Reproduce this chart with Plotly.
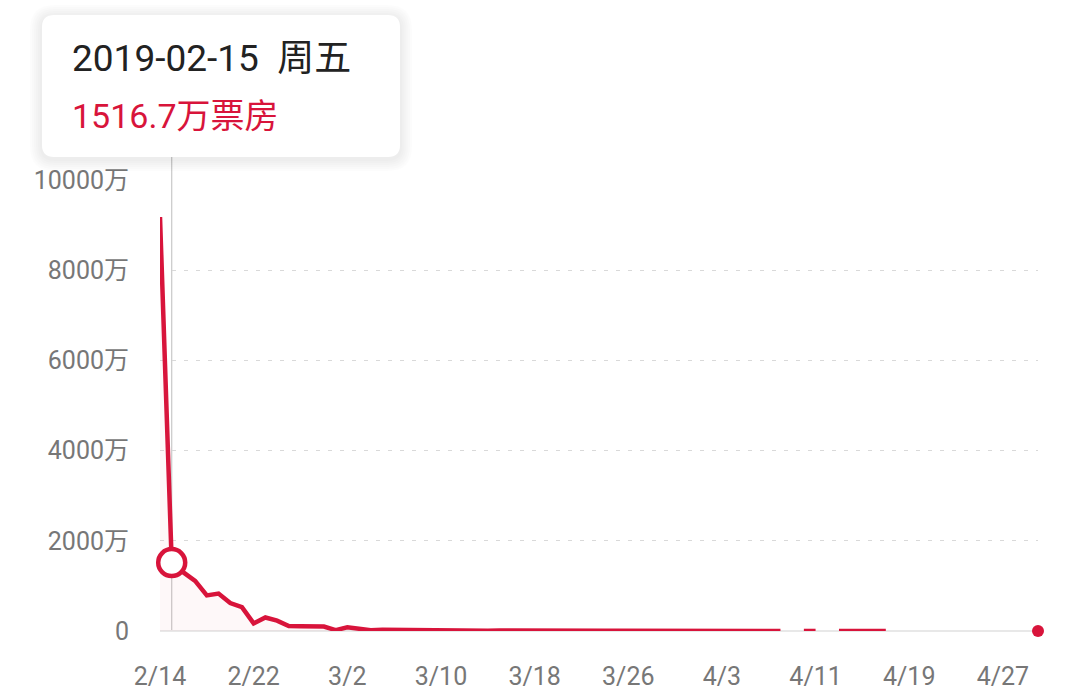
import pandas as pd
import plotly.graph_objects as go

# daily box office (万), 2019-02-14 .. 2019-04-30, None = no screening data
start_date = "2019-02-14"
box_office = [
    9180, 1516.7, 1300, 1110, 790, 830, 620, 530, 170, 300,
    230, 110, 105, 105, 100, 20, 80, 50, 15, 30,
    25, 20, 30, 35, 28, 12, 10, 9, 8, 10,
    12, 10, 5, 4, 3.5, 3, 2.8, 4, 4.5, 3, 2, 1.8,
    1.5, 1.4, 1.2, 1.5, 1.8, 1.2, 1, 0.9, 0.8, 0.8,
    0.7, 0.6, None, 0.5, 0.4, None, 0.4, 0.3, 0.3, 0.3,
    0.2, None, None, None, None, None, None, None, None, None,
    None, None, None, 0.2,
]
dates = pd.date_range(start_date, periods=len(box_office), freq="D")

highlight_idx = 1
highlight_date_text = "2019-02-15\u00a0\u00a0周五"
highlight_value_text = "1516.7万票房"

x_tick_dates = ["2019-02-14", "2019-02-22", "2019-03-02", "2019-03-10", "2019-03-18",
                "2019-03-26", "2019-04-03", "2019-04-11", "2019-04-19", "2019-04-27"]
x_tick_text = ["2/14", "2/22", "3/2", "3/10", "3/18", "3/26", "4/3", "4/11", "4/19", "4/27"]
y_tick_vals = [0, 2000, 4000, 6000, 8000, 10000]
y_tick_text = ["0", "2000万", "4000万", "6000万", "8000万", "10000万"]

RED = "#d8143b"
FONT = "Roboto, Noto Sans CJK SC"

# plot area in pixels
L, R, T, B = 160, 1038, 180, 631
W, H = R - L, B - T


def to_paper(px, py):
    return (px - L) / W, (B - py) / H


def rounded_path(x0, y0, x1, y1, r):
    pts = [
        ("M", [(x0 + r, y0)]), ("L", [(x1 - r, y0)]), ("Q", [(x1, y0), (x1, y0 + r)]),
        ("L", [(x1, y1 - r)]), ("Q", [(x1, y1), (x1 - r, y1)]), ("L", [(x0 + r, y1)]),
        ("Q", [(x0, y1), (x0, y1 - r)]), ("L", [(x0, y0 + r)]), ("Q", [(x0, y0), (x0 + r, y0)]),
    ]
    out = []
    for cmd, ps in pts:
        coords = []
        for px, py in ps:
            a, b = to_paper(px, py)
            coords.append(f"{a:.5f},{b:.5f}")
        out.append(cmd + " " + " ".join(coords))
    return " ".join(out) + " Z"


# isolated points get a dot since a lone point draws no line
lone_x, lone_y = [], []
for i, v in enumerate(box_office):
    if v is None:
        continue
    prev_none = i == 0 or box_office[i - 1] is None
    next_none = i == len(box_office) - 1 or box_office[i + 1] is None
    if prev_none and next_none:
        lone_x.append(dates[i])
        lone_y.append(v)

fig = go.Figure()
fig.add_trace(go.Scatter(
    x=dates, y=box_office, mode="lines",
    line=dict(color=RED, width=4.5),
    fill="tozeroy", fillcolor="rgba(216,20,59,0.03)",
    connectgaps=False, cliponaxis=False, hoverinfo="skip",
))
fig.add_trace(go.Scatter(
    x=lone_x, y=lone_y, mode="markers",
    marker=dict(color=RED, size=12), cliponaxis=False, hoverinfo="skip",
))
fig.add_trace(go.Scatter(
    x=[dates[highlight_idx]], y=[box_office[highlight_idx]], mode="markers",
    marker=dict(color="white", size=27, line=dict(color=RED, width=4.5)),
    cliponaxis=False, hoverinfo="skip",
))

# hover guide line
fig.add_shape(type="line", xref="x", yref="paper",
              x0=dates[highlight_idx], x1=dates[highlight_idx],
              y0=0, y1=to_paper(0, 157)[1],
              line=dict(color="#c8c8c8", width=1.2), layer="below")

# tooltip box with soft shadow
for i in range(6, 0, -1):
    fig.add_shape(type="path", xref="paper", yref="paper",
                  path=rounded_path(42 - i * 2, 15 - i * 2 + 2, 400 + i * 2, 157 + i * 2 + 2, 12 + i * 2),
                  fillcolor="rgba(0,0,0,0.012)", line=dict(width=0), layer="above")
fig.add_shape(type="path", xref="paper", yref="paper",
              path=rounded_path(42, 15, 400, 157, 12),
              fillcolor="white", line=dict(width=0), layer="above")

ax, ay = to_paper(70, 58)
fig.add_annotation(xref="paper", yref="paper", x=ax, y=ay, xanchor="left", yanchor="middle",
                   text=highlight_date_text, showarrow=False,
                   font=dict(family=FONT, size=37, color="#222222"))
ax, ay = to_paper(70, 116)
fig.add_annotation(xref="paper", yref="paper", x=ax, y=ay, xanchor="left", yanchor="middle",
                   text=highlight_value_text, showarrow=False,
                   font=dict(family=FONT, size=34, color=RED))

fig.update_layout(
    width=1080, height=697, autosize=False,
    margin=dict(l=L, r=1080 - R, t=T, b=697 - B),
    plot_bgcolor="white", paper_bgcolor="white",
    showlegend=False,
    font=dict(family=FONT, color="#777777", size=25),
)
fig.update_xaxes(
    range=[dates[0], dates[-1]], automargin=False,
    tickvals=x_tick_dates, ticktext=x_tick_text,
    showgrid=False, showline=False, zeroline=False,
    ticklabelstandoff=28, tickfont=dict(size=25, color="#777777"),
)
fig.update_yaxes(
    range=[0, 10000], automargin=False,
    tickvals=y_tick_vals, ticktext=y_tick_text,
    showgrid=True, gridcolor="#d9d9d9", griddash="4px,8px", gridwidth=1.2,
    zeroline=True, zerolinecolor="#e8e8e8", zerolinewidth=2,
    showline=False, ticklabelstandoff=30, tickfont=dict(size=25, color="#777777"),
)

# drop the default page margin so the figure sits at the window origin
fig.write_html("out.html", config={"responsive": False, "displayModeBar": False},
               post_script="document.body.style.margin='0';")
